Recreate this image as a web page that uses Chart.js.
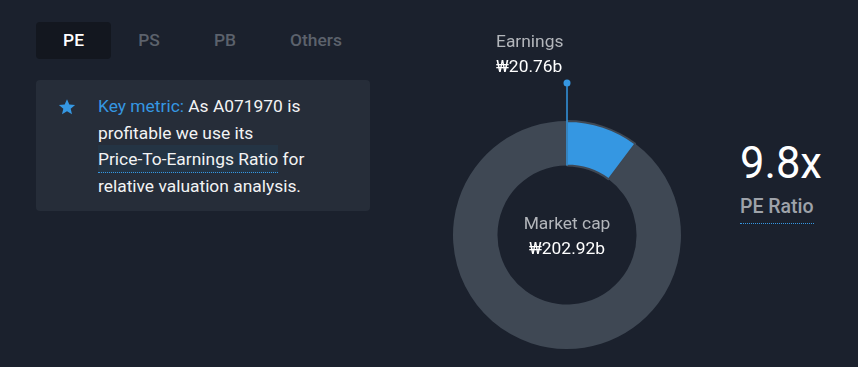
<!DOCTYPE html>
<html>
<head>
<meta charset="utf-8">
<script src="https://cdn.jsdelivr.net/npm/chart.js@4"></script>
<style>
  html, body { margin: 0; padding: 0; }
  body {
    width: 858px; height: 367px; overflow: hidden; position: relative;
    background: #1b212d; font-family: Roboto, "Noto Sans", sans-serif; color: #fff;
  }
  .tabs { position: absolute; left: 36px; top: 22px; display: flex; }
  .tab {
    height: 37px; line-height: 37px; width: 76px; text-align: center;
    font-size: 17.4px; font-weight: 500; color: #5c626c; border-radius: 4px;
  }
  .tab.active { background: #13171f; color: #fff; width: 75px; }
  .tab.wide { width: 106px; }
  .card {
    position: absolute; left: 36px; top: 80px; width: 334px; height: 131px;
    background: #262d39; border-radius: 4px;
  }
  .star { position: absolute; left: 22px; top: 18px; }
  .card p {
    position: absolute; left: 62px; top: 13px; margin: 0; width: 262px;
    font-size: 17.4px; line-height: 26.5px; color: #f2f3f4;
  }
  .key { color: #3597e2; }
  .hl {
    background: #243444; border-bottom: 1px dotted #3597e2; padding: 4px 0 3px;
    white-space: nowrap;
  }
  #wrap { position: absolute; left: 440px; top: 20px; width: 260px; height: 340px; }
  .ratio { position: absolute; left: 740px; top: 139px; }
  .ratio .big { font-size: 43.5px; line-height: 50px; color: #fff; }
  .ratio .lbl {
    font-size: 19.5px; font-weight: 500; color: #9ea2a9; margin-top: 6px;
    padding-bottom: 5px; border-bottom: 1px dotted #3597e2; display: inline-block;
  }
</style>
</head>
<body>
<div class="tabs">
  <div class="tab active">PE</div>
  <div class="tab">PS</div>
  <div class="tab">PB</div>
  <div class="tab wide">Others</div>
</div>
<div class="card">
  <svg class="star" width="18" height="18" viewBox="0 0 24 24"><path fill="#3597e2" d="M12 1.5l3.1 7.1 7.7.6-5.9 5 1.8 7.6L12 17.8l-6.7 4 1.8-7.6-5.9-5 7.7-.6z"/></svg>
  <p><span class="key">Key metric:</span> As A071970 is profitable we use its <span class="hl">Price-To-Earnings Ratio</span> for relative valuation analysis.</p>
</div>
<div id="wrap"><canvas id="pie"></canvas></div>
<div class="ratio">
  <div class="big">9.8x</div>
  <div class="lbl">PE Ratio</div>
</div>
<script>
// ===== DATA =====
const sliceLabels = ["Earnings", "Market cap"];
const sliceValues = [20.76, 202.92];   // ₩ billions
const ratioLabel = "PE Ratio";
const ratioValue = 9.8;

// earnings is a part of market cap, so the grey slice is the rest
const chartValues = [sliceValues[0], sliceValues[1] - sliceValues[0]];

// ===== Labels / pointer plugin =====
const labelPlugin = {
    id: 'pieLabels',
    afterDraw(chart) {
        const { ctx } = chart;
        const arc = chart.getDatasetMeta(0).data[0];
        const cx = arc.x, cy = arc.y;
        ctx.save();
        // pointer line and dot
        ctx.strokeStyle = "#3597e2";
        ctx.lineWidth = 1.5;
        ctx.beginPath();
        ctx.moveTo(cx, cy - arc.innerRadius);
        ctx.lineTo(cx, 63);
        ctx.stroke();
        ctx.fillStyle = "#3597e2";
        ctx.beginPath();
        ctx.arc(cx, 63, 3.5, 0, Math.PI * 2);
        ctx.fill();
        // earnings label
        ctx.font = "17.4px Roboto";
        ctx.textAlign = "left";
        ctx.textBaseline = "alphabetic";
        ctx.fillStyle = "#b3b6bb";
        ctx.fillText(sliceLabels[0], 56, 27);
        ctx.fillStyle = "#ffffff";
        ctx.fillText("₩" + sliceValues[0].toFixed(2) + "b", 56, 52);
        // center label
        ctx.textAlign = "center";
        ctx.fillStyle = "#b3b6bb";
        ctx.fillText(sliceLabels[1], cx, cy - 6);
        ctx.fillStyle = "#ffffff";
        ctx.fillText("₩" + sliceValues[1].toFixed(2) + "b", cx, cy + 19);
        ctx.restore();
    }
};

// ===== DOUGHNUT =====
new Chart(document.getElementById("pie"), {
    type: "doughnut",
    data: {
        labels: sliceLabels,
        datasets: [{
            data: chartValues,
            backgroundColor: ["#3597e2", "#3f4854"],
            borderColor: ["#3f4854", "#3f4854"],
            borderWidth: [2, 0]
        }]
    },
    options: {
        responsive: true,
        maintainAspectRatio: false,
        animation: false,
        cutout: "61%",
        layout: { padding: { top: 100, bottom: 10, left: 12, right: 18 } },
        plugins: {
            legend: { display: false },
            tooltip: { enabled: false }
        }
    },
    plugins: [labelPlugin]
});
</script>
</body>
</html>
